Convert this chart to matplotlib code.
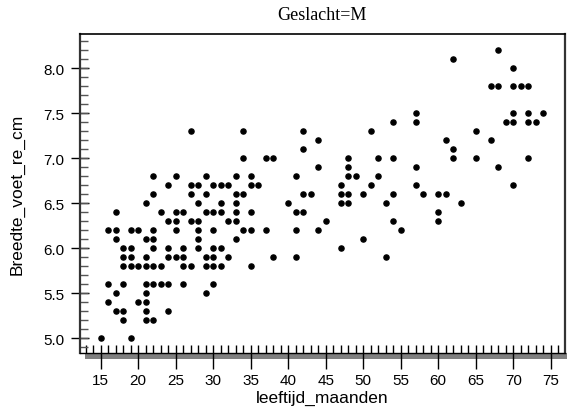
import matplotlib.pyplot as plt
import matplotlib.ticker as ticker
from matplotlib.patches import Rectangle

# leeftijd (maanden) en breedte voet (cm), per rij van gelijke breedte
leeftijd = [
    15, 19,
    18, 21, 22,
    17, 18, 21, 24,
    16, 20, 21,
    17, 21, 29,
    16, 18, 21, 22, 23, 24, 26, 30,
    18, 19, 20, 21, 22, 23, 26, 27, 29, 30, 31, 35,
    18, 19, 21, 24, 25, 26, 29, 30, 32, 38, 41, 53,
    18, 19, 22, 24, 26, 28, 30, 31, 47,
    17, 21, 22, 28, 33, 50,
    16, 17, 19, 20, 22, 25, 28, 30, 34, 35, 37, 41, 44, 55,
    24, 25, 27, 28, 32, 33, 45, 54, 60,
    17, 23, 25, 26, 29, 30, 31, 33, 35, 41, 42, 60,
    21, 28, 31, 33, 40, 47, 48, 53, 63,
    22, 27, 29, 33, 34, 42, 43, 47, 48, 50, 54, 58, 60, 61,
    24, 27, 28, 30, 31, 32, 35, 36, 47, 51, 57, 70,
    22, 25, 29, 33, 35, 41, 48, 49, 52,
    44, 48, 57, 68,
    34, 37, 38, 48, 52, 54, 62, 65, 72,
    42, 62,
    44, 61, 67,
    27, 34, 42, 51, 65,
    54, 57, 69, 70, 72, 73,
    57, 70, 72, 74,
    67, 68, 70, 71, 72,
    70,
    62,
    68,
]
breedte = (
    [5.0] * 2 + [5.2] * 3 + [5.3] * 4 + [5.4] * 3 + [5.5] * 3 + [5.6] * 8
    + [5.8] * 12 + [5.9] * 12 + [6.0] * 9 + [6.1] * 6 + [6.2] * 14
    + [6.3] * 9 + [6.4] * 12 + [6.5] * 9 + [6.6] * 14 + [6.7] * 12
    + [6.8] * 9 + [6.9] * 4 + [7.0] * 9 + [7.1] * 2 + [7.2] * 3
    + [7.3] * 5 + [7.4] * 6 + [7.5] * 4 + [7.8] * 5 + [8.0] + [8.1] + [8.2]
)

x_ticks = [15, 20, 25, 30, 35, 40, 45, 50, 55, 60, 65, 70, 75]
y_ticks = [5.0, 5.5, 6.0, 6.5, 7.0, 7.5, 8.0]

plt.rcParams["font.family"] = ["Liberation Sans", "DejaVu Sans"]

fig = plt.figure(figsize=(5.67, 4.14), dpi=100)
ax = fig.add_axes([0.1405, 0.146, 0.856, 0.769])

ax.plot(leeftijd, breedte, "o", color="black", markersize=3.7, zorder=3,
        clip_on=False)

ax.set_xlim(12.2, 76.9)
ax.set_ylim(4.84, 8.38)

ax.xaxis.set_major_locator(ticker.FixedLocator(x_ticks))
ax.xaxis.set_minor_locator(ticker.MultipleLocator(1))
ax.xaxis.remove_overlapping_locs = False
ax.yaxis.set_major_locator(ticker.FixedLocator(y_ticks))
ax.yaxis.set_minor_locator(ticker.MultipleLocator(0.1))
ax.yaxis.remove_overlapping_locs = False
ax.yaxis.set_major_formatter(ticker.StrMethodFormatter("{x:.1f}"))

ax.tick_params(axis="x", which="major", direction="out", length=11.5, width=1,
               labelsize=11, pad=3)
ax.tick_params(axis="x", which="minor", direction="in", length=6, width=1)
ax.tick_params(axis="y", which="major", direction="inout", length=12.5,
               width=1, labelsize=11, pad=5)
ax.tick_params(axis="y", which="minor", direction="in", length=6, width=1,
               color="#555555")

for side in ["left", "right"]:
    ax.spines[side].set_linewidth(1.6)
    ax.spines[side].set_color("#333333")
ax.spines["top"].set_linewidth(1.2)
ax.spines["bottom"].set_linewidth(1)

# grijze balk onder de x-as
ax.add_patch(Rectangle((0.011, -0.0205), 1.0, 0.0185, transform=ax.transAxes,
                       color="#808080", clip_on=False, zorder=1, lw=0))

ax.set_xlabel("leeftijd_maanden", fontsize=12.5, labelpad=2)
ax.set_ylabel("Breedte_voet_re_cm", fontsize=12.5, labelpad=13)
ax.set_title("Geslacht=M", fontsize=13, family="Liberation Serif", pad=11)

fig.savefig("out.png", dpi=100)
